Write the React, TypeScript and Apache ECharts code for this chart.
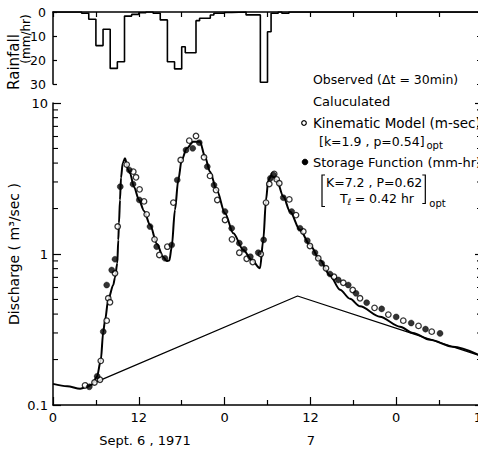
import React, { useEffect, useRef } from "react";
import * as echarts from "echarts";

const FONT = '"DejaVu Sans", Verdana, sans-serif';

// Rainfall hyetograph (mm/hr): each rate holds from its start time (hours) to the next time
const rainTimes = [0, 4, 5, 6, 7, 8, 9, 10, 11, 12, 13, 14, 15, 16, 17, 18, 18.5, 20, 20.5, 22, 22.5, 24, 25, 27, 29, 30, 30.5, 31.5, 32, 33, 60];
const rainRates = [0, 0.5, 3, 14, 7.2, 23.5, 20.7, 1.7, 1, 0.3, 0, 0.5, 3.3, 20.7, 23.7, 14.5, 17, 3.6, 2.6, 1.25, 0.5, 0.2, 0, 1.2, 29.3, 8.2, 0.5, 0, 0.5, 0, 0];

// Observed discharge (m3/sec), hours from 0:00 Sept. 6
const obsTimes = [0, 2, 3.8, 4.6, 5.4, 6.15, 6.68, 7.03, 7.27, 7.73, 8.43, 8.67, 8.99, 9.13, 9.23, 9.37, 9.51, 9.75, 10.07, 10.5, 10.77, 11.33, 12.03, 12.73, 13.57, 14.55, 15.38, 15.9, 16.27, 16.6, 17.06, 17.52, 18.0, 18.7, 19.62, 20.56, 21.26, 21.96, 22.9, 24.06, 25.22, 26.62, 27.79, 28.95, 29.41, 29.79, 30.11, 30.59, 31.29, 32.21, 33.15, 34.55, 35.94, 37.34, 38.74, 40.14, 41.54, 42.94, 45.73, 48.53, 50.35, 52.73, 55.94, 60];
const obsQ = [0.138, 0.133, 0.128, 0.131, 0.136, 0.154, 0.197, 0.306, 0.362, 0.5, 0.623, 0.7, 0.868, 1.24, 1.6, 2.28, 3.2, 3.99, 4.3, 3.62, 3.42, 2.78, 2.28, 1.93, 1.56, 1.165, 0.96, 0.9, 0.905, 1.11, 1.96, 3.09, 4.19, 5.01, 5.54, 5.54, 4.41, 3.51, 2.65, 1.86, 1.37, 1.063, 0.913, 0.804, 1.24, 2.28, 3.09, 3.34, 3.09, 2.4, 1.91, 1.44, 1.147, 0.913, 0.72, 0.58, 0.505, 0.45, 0.384, 0.33, 0.3, 0.27, 0.243, 0.21];

// Baseflow separation line
const sepTimes = [5.9, 34.2, 60];
const sepQ = [0.141, 0.527, 0.21];

// Kinematic model (open circles)
const kinTimes = [4.48, 5.8, 6.57, 6.68, 7.51, 7.73, 7.97, 8.67, 9.05, 10.31, 11.23, 11.61, 12.11, 12.73, 13.1, 14.2, 14.87, 15.99, 16.83, 17.86, 19.06, 20.0, 21.12, 21.96, 22.8, 22.98, 24.06, 25.03, 26.06, 27.09, 27.93, 29.06, 29.79, 30.25, 30.94, 31.29, 31.65, 33.05, 33.99, 35.01, 35.94, 37.1, 38.18, 39.3, 40.6, 41.92, 42.94, 44.97, 46.9, 48.99, 51.12, 52.97];
const kinQ = [0.135, 0.141, 0.147, 0.196, 0.362, 0.509, 0.479, 0.745, 1.52, 3.91, 3.51, 3.22, 2.68, 2.23, 1.83, 1.25, 0.985, 1.118, 2.19, 4.19, 5.63, 6.05, 4.37, 3.29, 2.65, 2.28, 1.68, 1.25, 1.02, 0.93, 0.885, 1.0, 2.19, 2.91, 3.39, 3.12, 2.94, 2.3, 1.81, 1.41, 1.13, 0.937, 0.804, 0.707, 0.645, 0.578, 0.509, 0.44, 0.397, 0.362, 0.334, 0.306];

// Storage function (filled circles)
const sfTimes = [5.08, 6.18, 7.03, 7.51, 8.21, 8.67, 9.41, 10.67, 11.19, 12.07, 13.57, 14.5, 15.66, 16.6, 17.38, 18.6, 19.54, 20.46, 21.58, 22.52, 24.06, 24.99, 26.06, 26.74, 27.6, 28.71, 29.46, 30.4, 30.81, 32.21, 33.38, 34.55, 35.57, 36.64, 37.58, 38.74, 39.9, 41.3, 42.38, 43.87, 45.97, 48.0, 50.1, 52.1, 54.13];
const sfQ = [0.132, 0.155, 0.306, 0.623, 0.783, 0.923, 2.79, 3.6, 2.9, 2.28, 1.52, 1.118, 0.937, 1.147, 3.09, 4.88, 5.01, 5.46, 3.79, 2.86, 1.91, 1.48, 1.18, 1.074, 0.96, 1.02, 1.24, 3.17, 3.34, 2.36, 1.91, 1.48, 1.225, 1.02, 0.868, 0.737, 0.673, 0.623, 0.549, 0.476, 0.433, 0.383, 0.349, 0.318, 0.298];

// Log-axis minor tick values
const minorTickValues = [0.2, 0.3, 0.4, 0.5, 0.6, 0.7, 0.8, 0.9, 2, 3, 4, 5, 6, 7, 8, 9];

const X_MIN = 0;
const X_MAX = 60;

function measure(text: string, size: number): number {
  const ctx = document.createElement("canvas").getContext("2d");
  if (!ctx) return text.length * size * 0.6;
  ctx.font = `${size}px "DejaVu Sans"`;
  return ctx.measureText(text).width;
}

function txt(text: string, x: number, y: number, size = 13, align = "left", rotation = 0, lineHeight?: number): any {
  return {
    type: "text",
    x,
    y,
    rotation,
    silent: true,
    z: 20,
    style: {
      text,
      fontFamily: FONT,
      fontSize: size,
      lineHeight: lineHeight ?? Math.round(size * 1.15),
      fill: "#000",
      align,
      verticalAlign: "middle",
      textAlign: align,
      textVerticalAlign: "middle",
    },
  };
}

export default function App() {
  const ref = useRef<HTMLDivElement>(null);

  useEffect(() => {
    if (!ref.current) return;
    const chart = echarts.init(ref.current, undefined, { renderer: "svg" });

    const axisLineStyle = { color: "#000", width: 1.5 };
    const tickStyle = { color: "#000", width: 1.2 };

    const tickSeries = (xVal: number, dir: number) => ({
      type: "custom",
      xAxisIndex: 1,
      yAxisIndex: 2,
      silent: true,
      clip: false,
      z: 5,
      data: minorTickValues.map((v) => [xVal, v]),
      encode: { x: 0, y: 1 },
      renderItem: (_p: any, api: any) => {
        const pt = api.coord([api.value(0), api.value(1)]);
        return {
          type: "line",
          shape: { x1: pt[0], y1: pt[1], x2: pt[0] + dir * 5, y2: pt[1] },
          style: { stroke: "#000", lineWidth: 1.1 },
        };
      },
    });

    const pSize = 12.5;
    const w1 = measure("[k=1.9 , p=0.54]", pSize);
    const w2 = measure("K=7.2 , P=0.62", pSize);
    const wT = measure("T", pSize);
    const kStart = 319;
    const KStart = 326;
    const rb = KStart + w2 + 3;
    const yK = 182;
    const yT = 198.5;

    const graphics: any[] = [
      txt("Rainfall", 14, 62, 15, "center", Math.PI / 2),
      txt("(mm/hr)", 26, 39, 12, "center", Math.PI / 2),
      txt("Discharge ( m³/sec )", 14, 254, 14, "center", Math.PI / 2),
      txt("Sept. 6 , 1971", 145, 440, 13, "center"),
      txt("7", 311, 440, 13, "center"),
      txt("Observed (Δt = 30min)", 313, 79.5, 12.5),
      txt("Caluculated", 313, 101.5, 13),
      {
        type: "circle",
        silent: true,
        z: 20,
        shape: { cx: 304, cy: 123, r: 2.3 },
        style: { fill: "#fff", stroke: "#000", lineWidth: 1.2 },
      },
      txt("Kinematic Model (m-sec)", 313, 123, 13.5),
      txt("[k=1.9 , p=0.54]", kStart, 141, pSize, "left", 0, 12),
      txt("opt", kStart + w1 + 2, 145, 10, "left", 0, 9),
      {
        type: "circle",
        silent: true,
        z: 20,
        shape: { cx: 305, cy: 162, r: 2.8 },
        style: { fill: "#000", stroke: "#000", lineWidth: 1 },
      },
      txt("Storage Function (mm-hr)", 313, 162, 13, "left", 0, 13),
      txt("K=7.2 , P=0.62", KStart, yK, pSize, "left", 0, 12),
      txt("T", 340, yT, pSize, "left", 0, 12),
      txt("ℓ", 340 + wT, yT + 3.5, 9, "left", 0, 8),
      txt("= 0.42 hr", 340 + wT + 7, yT, pSize, "left", 0, 12),
      txt("opt", rb + 4, yT + 5, 10, "left", 0, 9),
      {
        type: "polyline",
        silent: true,
        z: 20,
        shape: { points: [[KStart - 1, yK - 7], [KStart - 4, yK - 7], [KStart - 4, yT + 8], [KStart - 1, yT + 8]] },
        style: { stroke: "#000", lineWidth: 1.2, fill: "none" },
      },
      {
        type: "polyline",
        silent: true,
        z: 20,
        shape: { points: [[rb - 3, yK - 7], [rb, yK - 7], [rb, yT + 5], [rb - 3, yT + 5]] },
        style: { stroke: "#000", lineWidth: 1.2, fill: "none" },
      },
    ];

    const option: any = {
      animation: false,
      backgroundColor: "#fff",
      grid: [
        { left: 53, top: 12, right: -4, height: 72, outerBoundsMode: "none", containLabel: false },
        { left: 53, top: 103, right: -4, height: 302, outerBoundsMode: "none", containLabel: false },
      ],
      xAxis: [
        {
          gridIndex: 0,
          type: "value",
          position: "top",
          min: X_MIN,
          max: X_MAX,
          interval: 6,
          axisLine: { show: true, lineStyle: axisLineStyle },
          axisTick: { show: true, inside: true, length: 5, lineStyle: tickStyle },
          axisLabel: { show: false },
          splitLine: { show: false },
        },
        {
          gridIndex: 1,
          type: "value",
          position: "bottom",
          min: X_MIN,
          max: X_MAX,
          interval: 12,
          axisLine: { show: true, onZero: false, lineStyle: axisLineStyle },
          axisTick: { show: true, inside: true, length: 8, lineStyle: tickStyle },
          minorTick: { show: true, splitNumber: 2, length: 5, lineStyle: tickStyle },
          axisLabel: {
            show: true,
            margin: 6,
            fontFamily: FONT,
            fontSize: 13,
            color: "#000",
            showMaxLabel: true,
            hideOverlap: false,
            formatter: (v: number) => String(Math.round(v) % 24),
          },
          splitLine: { show: false },
          minorSplitLine: { show: false },
        },
      ],
      yAxis: [
        {
          gridIndex: 0,
          type: "value",
          inverse: true,
          min: 0,
          max: 30,
          interval: 10,
          axisLine: { show: true, lineStyle: axisLineStyle },
          axisTick: { show: true, inside: true, length: 4, lineStyle: tickStyle },
          axisLabel: { show: true, margin: 7, fontFamily: FONT, fontSize: 12.5, color: "#000" },
          splitLine: { show: false },
        },
        {
          gridIndex: 0,
          type: "value",
          position: "right",
          inverse: true,
          min: 0,
          max: 30,
          interval: 10,
          axisLine: { show: false },
          axisTick: { show: true, inside: true, length: 5, lineStyle: tickStyle },
          axisLabel: { show: false },
          splitLine: { show: false },
        },
        {
          gridIndex: 1,
          type: "log",
          logBase: 10,
          min: 0.1,
          max: 10,
          axisLine: { show: true, onZero: false, lineStyle: axisLineStyle },
          axisTick: { show: true, inside: true, length: 8, lineStyle: tickStyle },
          axisLabel: {
            show: true,
            margin: 5,
            fontFamily: FONT,
            fontSize: 13,
            color: "#000",
            formatter: (v: number) => (v < 0.5 ? "0.1" : String(Math.round(v))),
          },
          splitLine: { show: false },
        },
        {
          gridIndex: 1,
          type: "log",
          logBase: 10,
          position: "right",
          min: 0.1,
          max: 10,
          axisLine: { show: true, onZero: false, lineStyle: axisLineStyle },
          axisTick: { show: true, inside: true, length: 7, lineStyle: tickStyle },
          axisLabel: { show: false },
          splitLine: { show: false },
        },
      ],
      series: [
        {
          type: "line",
          xAxisIndex: 0,
          yAxisIndex: 0,
          step: "end",
          symbol: "none",
          data: rainTimes.map((t, i) => [t, rainRates[i]]),
          lineStyle: { color: "#000", width: 1.6 },
          z: 3,
        },
        {
          type: "line",
          xAxisIndex: 1,
          yAxisIndex: 2,
          symbol: "none",
          data: sepTimes.map((t, i) => [t, sepQ[i]]),
          lineStyle: { color: "#000", width: 1.3 },
          z: 2,
        },
        {
          type: "line",
          xAxisIndex: 1,
          yAxisIndex: 2,
          symbol: "none",
          smooth: 0.3,
          smoothMonotone: "x",
          data: obsTimes.map((t, i) => [t, obsQ[i]]),
          lineStyle: { color: "#000", width: 2 },
          z: 3,
        },
        {
          type: "scatter",
          xAxisIndex: 1,
          yAxisIndex: 2,
          symbol: "circle",
          symbolSize: 5.5,
          data: kinTimes.map((t, i) => [t, kinQ[i]]),
          itemStyle: { color: "#fff", borderColor: "#000", borderWidth: 1.3 },
          z: 4,
        },
        {
          type: "scatter",
          xAxisIndex: 1,
          yAxisIndex: 2,
          symbol: "circle",
          symbolSize: 6,
          data: sfTimes.map((t, i) => [t, sfQ[i]]),
          itemStyle: { color: "#000", borderColor: "#000", borderWidth: 0.5 },
          z: 4,
        },
        tickSeries(X_MIN, 1),
        tickSeries(X_MAX, -1),
      ],
      graphic: graphics,
    };

    chart.setOption(option);
    return () => chart.dispose();
  }, []);

  return (
    <div
      ref={ref}
      style={{ position: "fixed", left: 0, top: 0, width: 478, height: 450, background: "#fff" }}
    />
  );
}
